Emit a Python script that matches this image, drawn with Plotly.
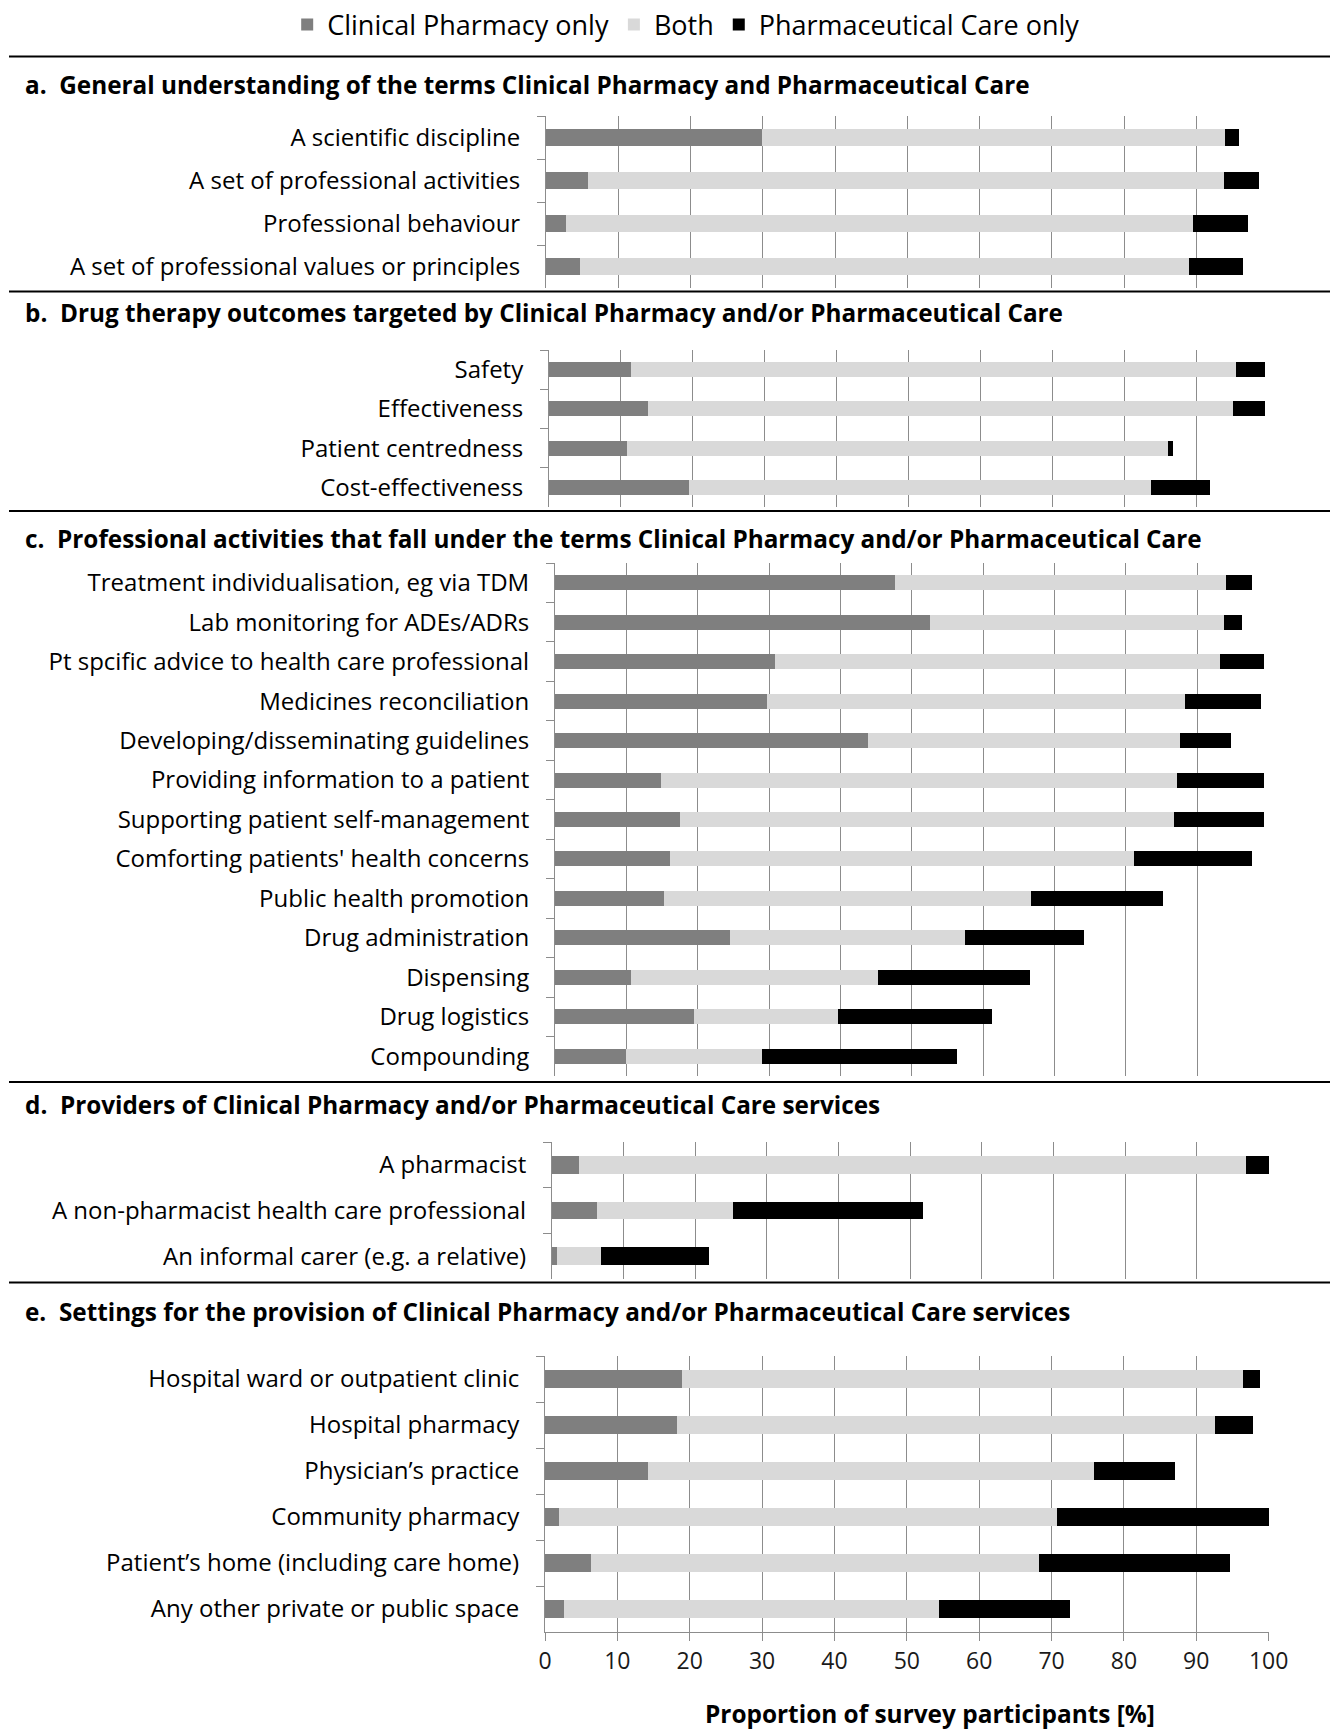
import plotly.graph_objects as go

W, H = 1335, 1733

# ---------------- data ----------------
series_names = ["Clinical Pharmacy only", "Both", "Pharmaceutical Care only"]

a_title = "a.\u00a0\u00a0General understanding of the terms Clinical Pharmacy and Pharmaceutical Care"
a_categories = ["A scientific discipline", "A set of professional activities",
                "Professional behaviour", "A set of professional values or principles"]
a_cp = [29.9, 5.8, 2.8, 4.7]
a_both = [64.0, 88.0, 86.8, 84.3]
a_pc = [2.0, 4.8, 7.6, 7.5]

b_title = "b.\u00a0\u00a0Drug therapy outcomes targeted by Clinical Pharmacy and/or Pharmaceutical Care"
b_categories = ["Safety", "Effectiveness", "Patient centredness", "Cost-effectiveness"]
b_cp = [11.4, 13.7, 10.9, 19.4]
b_both = [84.0, 81.3, 75.1, 64.2]
b_pc = [4.1, 4.5, 0.7, 8.2]

c_title = "c.\u00a0\u00a0Professional activities that fall under the terms Clinical Pharmacy and/or Pharmaceutical Care"
c_categories = ["Treatment individualisation, eg via TDM", "Lab monitoring for ADEs/ADRs",
                "Pt spcific advice to health care professional", "Medicines reconciliation",
                "Developing/disseminating guidelines", "Providing information to a patient",
                "Supporting patient self-management", "Comforting patients' health concerns",
                "Public health promotion", "Drug administration", "Dispensing",
                "Drug logistics", "Compounding"]
c_cp = [47.6, 52.5, 30.8, 29.7, 43.8, 14.9, 17.5, 16.1, 15.3, 24.5, 10.6, 19.5, 9.9]
c_both = [46.4, 41.2, 62.4, 58.6, 43.8, 72.2, 69.3, 65.0, 51.4, 33.0, 34.6, 20.1, 19.1]
c_pc = [3.7, 2.5, 6.2, 10.6, 7.1, 12.3, 12.6, 16.6, 18.5, 16.6, 21.4, 21.7, 27.3]

d_title = "d.\u00a0\u00a0Providers of Clinical Pharmacy and/or Pharmaceutical Care services"
d_categories = ["A pharmacist", "A non-pharmacist health care professional",
                "An informal carer (e.g. a relative)"]
d_cp = [3.7, 6.3, 0.7]
d_both = [93.1, 18.9, 6.2]
d_pc = [3.2, 26.5, 15.0]

e_title = "e.\u00a0\u00a0Settings for the provision of Clinical Pharmacy and/or Pharmaceutical Care services"
e_categories = ["Hospital ward or outpatient clinic", "Hospital pharmacy",
                "Physician\u2019s practice", "Community pharmacy",
                "Patient\u2019s home (including care home)", "Any other private or public space"]
e_cp = [19.0, 18.3, 14.2, 2.0, 6.3, 2.6]
e_both = [77.5, 74.3, 61.6, 68.7, 62.0, 51.9]
e_pc = [2.3, 5.3, 11.2, 29.3, 26.3, 18.0]

x_tick_values = [0, 10, 20, 30, 40, 50, 60, 70, 80, 90, 100]
x_axis_title = "Proportion of survey participants [%]"

# ---------------- styling / layout ----------------
colors = ["#7f7f7f", "#d9d9d9", "#000000"]
FONT = "Open Sans"
grid_col = "#8c8c8c"

panels = [
    dict(title=a_title, cats=a_categories, vals=[a_cp, a_both, a_pc],
         x0=546, x1=1269, y0=116, y1=288, ty=85),
    dict(title=b_title, cats=b_categories, vals=[b_cp, b_both, b_pc],
         x0=549, x1=1269, y0=350, y1=507, ty=313),
    dict(title=c_title, cats=c_categories, vals=[c_cp, c_both, c_pc],
         x0=555, x1=1269, y0=563, y1=1076, ty=539),
    dict(title=d_title, cats=d_categories, vals=[d_cp, d_both, d_pc],
         x0=552, x1=1269, y0=1142, y1=1279, ty=1104),
    dict(title=e_title, cats=e_categories, vals=[e_cp, e_both, e_pc],
         x0=545, x1=1269, y0=1356, y1=1632, ty=1311),
]
separators = [56.5, 291.5, 511, 1082, 1282.5]


def fx(px):
    return px / W


def fy(py):
    return 1 - py / H


fig = go.Figure()
layout = dict(
    template="none",
    width=W, height=H,
    margin=dict(l=0, r=0, t=0, b=0, pad=0, autoexpand=False),
    paper_bgcolor="white", plot_bgcolor="white",
    barmode="stack", bargap=0.62,
    font=dict(family=FONT, size=24, color="#000000"),
    showlegend=True,
    legend=dict(orientation="h", x=0.514, xanchor="center", y=fy(25), yanchor="middle",
                font=dict(family=FONT, size=27, color="#000000"),
                itemwidth=30, traceorder="normal", bgcolor="rgba(0,0,0,0)"),
)

annotations = []
shapes = []

for i, p in enumerate(panels):
    n = i + 1
    xa = "x" if n == 1 else f"x{n}"
    ya = "y" if n == 1 else f"y{n}"
    xkey = "xaxis" if n == 1 else f"xaxis{n}"
    ykey = "yaxis" if n == 1 else f"yaxis{n}"
    for s in range(3):
        fig.add_trace(go.Bar(
            y=p["cats"], x=p["vals"][s], orientation="h",
            name=series_names[s], marker=dict(color=colors[s], line=dict(width=0)),
            legendgroup=series_names[s], showlegend=(i == 0),
            xaxis=xa, yaxis=ya, hoverinfo="x+y+name",
        ))
    last = (n == 5)
    layout[xkey] = dict(
        domain=[fx(p["x0"]), fx(p["x1"])], anchor=ya, range=[0, 100.05],
        tickmode="array", tickvals=x_tick_values, automargin=False,
        showgrid=True, gridcolor=grid_col, gridwidth=1, zeroline=False,
        showline=last, linecolor=grid_col, linewidth=1,
        ticks="outside" if last else "", ticklen=8, tickcolor=grid_col,
        showticklabels=last,
        tickfont=dict(family=FONT, size=23, color="#1a1a1a"),
        fixedrange=True,
    )
    layout[ykey] = dict(
        domain=[fy(p["y1"]), fy(p["y0"])], anchor=xa, type="category",
        categoryorder="array", categoryarray=p["cats"], autorange="reversed",
        showline=True, linecolor=grid_col, linewidth=1, automargin=False,
        ticks="outside", tickson="boundaries", ticklen=8, tickcolor=grid_col,
        showgrid=False, zeroline=False, ticklabelstandoff=20,
        tickfont=dict(family=FONT, size=24, color="#000000"),
        fixedrange=True,
    )
    annotations.append(dict(
        text=p["title"], x=fx(23), y=fy(p["ty"]), xref="paper", yref="paper",
        xanchor="left", yanchor="middle", showarrow=False,
        font=dict(family=FONT, size=24.3, color="#000000", weight="bold"),
    ))

annotations.append(dict(
    text="<b>" + x_axis_title + "</b>", x=fx(930), y=fy(1713), xref="paper", yref="paper",
    xanchor="center", yanchor="middle", showarrow=False,
    font=dict(family=FONT, size=24.4, color="#000000"),
))

for sy in separators:
    shapes.append(dict(type="line", xref="paper", yref="paper",
                       x0=fx(9), x1=fx(1330), y0=fy(sy), y1=fy(sy),
                       line=dict(color="#000000", width=2)))

layout["annotations"] = annotations
layout["shapes"] = shapes
fig.update_layout(**layout)

fig.write_html("out.html", post_script="document.body.style.margin='0';",
               config={"displayModeBar": False})
